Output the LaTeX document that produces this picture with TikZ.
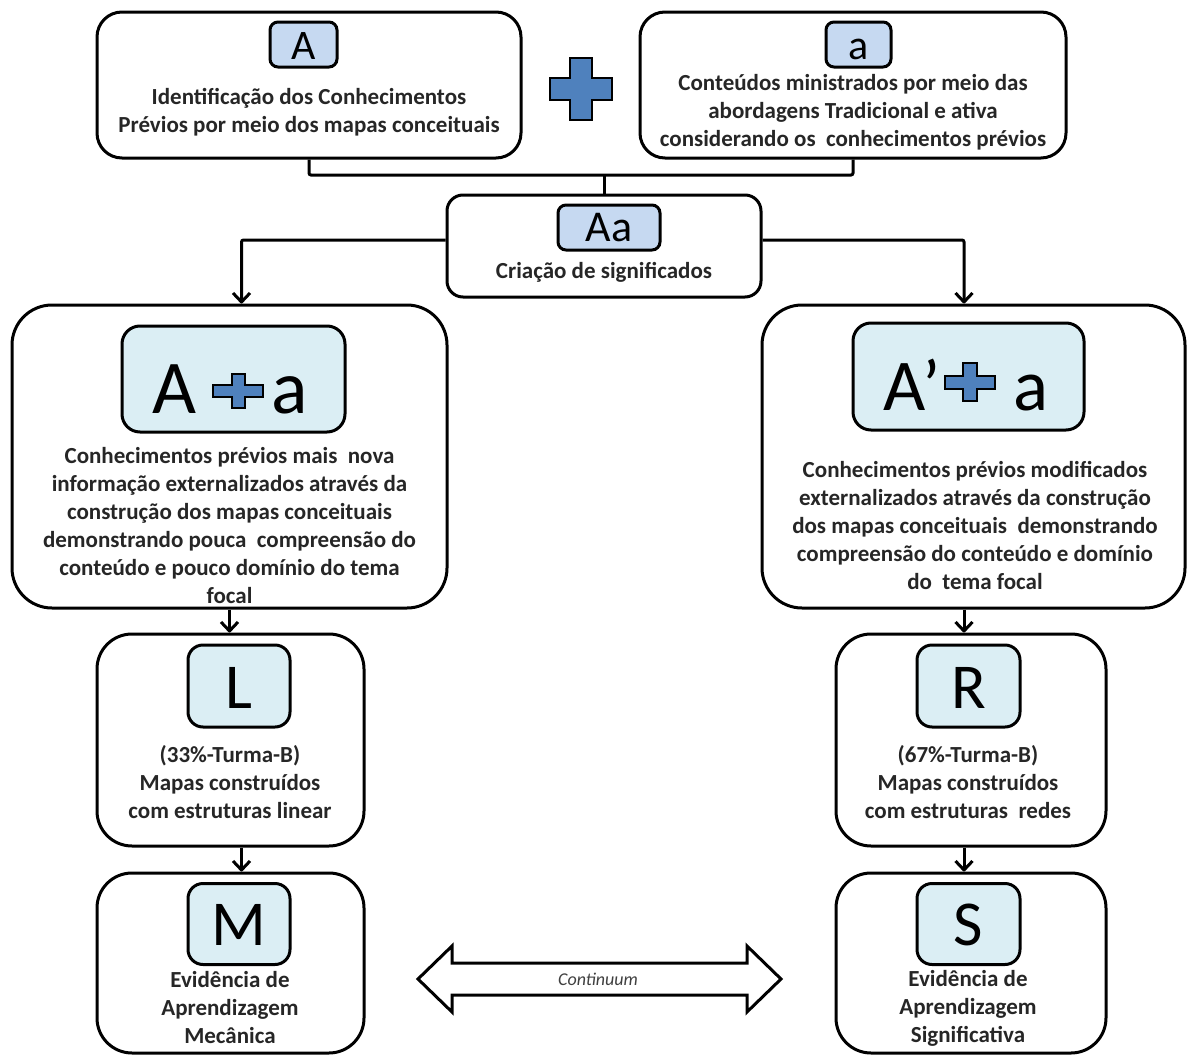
\documentclass[tikz,border=0pt]{standalone}
\usepackage{fontspec}
\setmainfont{Carlito}
\usetikzlibrary{arrows.meta}
\definecolor{lightblue}{HTML}{C6D9F1}
\definecolor{paleblue}{HTML}{DBEEF4}
\definecolor{plusblue}{HTML}{4F81BD}
\begin{document}
\begin{tikzpicture}[x=1pt,y=-1pt,
  box/.style={draw, line width=3pt, inner sep=0pt, fill=white},
  innerbox/.style={draw, line width=3pt, inner sep=0pt},
  desc/.style={font=\fontsize{23}{28}\selectfont\bfseries, align=center, inner sep=0pt, text=black!85},
  conn/.style={line width=3pt, rounded corners=2pt},
  arr/.style={line width=3pt, rounded corners=2pt, -{Straight Barb[length=9pt,width=17pt,line join=round]}},
  plusstyle/.style={draw, line width=2.5pt, fill=plusblue, line join=miter},
  letter/.style={inner sep=0pt, anchor=base}
]
\fill[white] (0,0) rectangle (1187,1055);
\useasboundingbox (0,0) rectangle (1187,1055);

% outer boxes
\node[box, rounded corners=25pt, minimum width=424, minimum height=146] (tl) at (309,85) {};
\node[box, rounded corners=25pt, minimum width=426, minimum height=146] (tr) at (853,85) {};
\node[box, rounded corners=16pt, minimum width=314, minimum height=102] (aa) at (604,246) {};
\node[box, rounded corners=40pt, minimum width=435, minimum height=303] (bl) at (229.5,456.5) {};
\node[box, rounded corners=40pt, minimum width=423, minimum height=303] (br) at (973.5,456.5) {};
\node[box, rounded corners=35pt, minimum width=267, minimum height=212] (lb) at (230.5,740) {};
\node[box, rounded corners=35pt, minimum width=267, minimum height=180] (mb) at (230.5,963) {};
\node[box, rounded corners=35pt, minimum width=270, minimum height=212] (rb) at (971,740) {};
\node[box, rounded corners=35pt, minimum width=270, minimum height=180] (sb) at (971,963) {};

% inner boxes
\node[innerbox, fill=lightblue, rounded corners=8pt, minimum width=67, minimum height=45] (iA) at (303.5,44.5) {};
\node[innerbox, fill=lightblue, rounded corners=8pt, minimum width=65, minimum height=45] (ia) at (858.5,44.5) {};
\node[innerbox, fill=lightblue, rounded corners=8pt, minimum width=102, minimum height=45] (iAa) at (609,227.5) {};
\node[innerbox, fill=paleblue, rounded corners=18pt, minimum width=223, minimum height=106] (iApa) at (233.5,379) {};
\node[innerbox, fill=paleblue, rounded corners=18pt, minimum width=231, minimum height=107] (iAppa) at (968.5,376.5) {};
\node[innerbox, fill=paleblue, rounded corners=15pt, minimum width=102, minimum height=82] (iL) at (239,686) {};
\node[innerbox, fill=paleblue, rounded corners=15pt, minimum width=102, minimum height=81] (iM) at (239,924) {};
\node[innerbox, fill=paleblue, rounded corners=15pt, minimum width=103, minimum height=82] (iR) at (968.5,686) {};
\node[innerbox, fill=paleblue, rounded corners=15pt, minimum width=103, minimum height=81] (iS) at (968.5,924) {};

% letters
\node[letter, font=\fontsize{42}{42}\selectfont] (tA) at (303.5,59) {A};
\node[letter, font=\fontsize{42}{42}\selectfont] (ta) at (858.5,59) {a};
\node[letter, font=\fontsize{44}{44}\selectfont] (tAa) at (609,241) {Aa};
\node[letter, font=\fontsize{76}{76}\selectfont] (bA) at (174,413) {A};
\node[letter, font=\fontsize{76}{76}\selectfont] (ba) at (290,413) {a};
\node[letter, font=\fontsize{73}{73}\selectfont] (bAp) at (912,410) {A’};
\node[letter, font=\fontsize{73}{73}\selectfont] (bap) at (1031,410) {a};
\node[letter, font=\fontsize{64}{64}\selectfont] (tL) at (239,708) {L};
\node[letter, font=\fontsize{64}{64}\selectfont] (tM) at (239,945) {M};
\node[letter, font=\fontsize{64}{64}\selectfont] (tR) at (968.5,708) {R};
\node[letter, font=\fontsize{64}{64}\selectfont] (tS) at (968.5,945) {S};

% plus signs
\draw[plusstyle, shift={(581,89)}] (-11,-31) -- (11,-31) -- (11,-11) -- (31,-11) -- (31,11) -- (11,11) -- (11,31) -- (-11,31) -- (-11,11) -- (-31,11) -- (-31,-11) -- (-11,-11) -- cycle;
\draw[plusstyle, line width=2pt, shift={(238,391)}] (-6.5,-17) -- (6.5,-17) -- (6.5,-6) -- (25,-6) -- (25,6) -- (6.5,6) -- (6.5,17) -- (-6.5,17) -- (-6.5,6) -- (-25,6) -- (-25,-6) -- (-6.5,-6) -- cycle;
\draw[plusstyle, line width=2pt, shift={(970,382)}] (-7,-19) -- (7,-19) -- (7,-6.5) -- (25,-6.5) -- (25,6.5) -- (7,6.5) -- (7,19) -- (-7,19) -- (-7,6.5) -- (-25,6.5) -- (-25,-6.5) -- (-7,-6.5) -- cycle;

% descriptions
\node[desc] (dtl) at (309,112) {Identificação dos Conhecimentos\\Prévios por meio dos mapas conceituais};
\node[desc] (dtr) at (853,112.5) {Conteúdos ministrados por meio das\\abordagens Tradicional e ativa\\considerando os\ \ conhecimentos prévios};
\node[desc] (daa) at (604,272) {Criação de significados};
\node[desc] (dbl) at (229.5,525.5) {Conhecimentos prévios mais\ \ nova\\informação externalizados através da\\construção dos mapas conceituais\\demonstrando pouca\ \ compreensão do\\conteúdo e pouco domínio do tema\\focal};
\node[desc] (dbr) at (975,525.5) {Conhecimentos prévios modificados\\externalizados através da construção\\dos mapas conceituais\ \ demonstrando\\compreensão do conteúdo e domínio\\do\ \ tema focal};
\node[desc] (dl) at (230,782) {(33\%-Turma-B)\\Mapas construídos\\com estruturas linear};
\node[desc] (dm) at (230,1008) {Evidência de\\Aprendizagem\\Mecânica};
\node[desc] (dr) at (968,782) {(67\%-Turma-B)\\Mapas construídos\\com estruturas\ \ redes};
\node[desc] (ds) at (968,1008) {Evidência de\\Aprendizagem\\Significativa};

% connectors
\coordinate (j) at (604,175);
\draw[conn] (tl.south) |- (j) -| (tr.south);
\draw[conn] (j) -- (aa.north);
\draw[arr] ([yshift=6pt]aa.west) -| ([xshift=12pt]bl.north);
\draw[arr] ([yshift=6pt]aa.east) -| ([xshift=-9.5pt]br.north);
\draw[arr] (bl.south) -- (bl.south |- lb.north);
\draw[arr] ([xshift=11pt]lb.south) -- ([xshift=11pt]lb.south |- mb.north);
\draw[arr] ([xshift=-9.5pt]br.south) -- ([xshift=-9.5pt]br.south |- rb.north);
\draw[arr] ([xshift=-7pt]rb.south) -- ([xshift=-7pt]rb.south |- sb.north);

% continuum double arrow
\draw[line width=3pt, line join=miter, fill=white] (418,979) -- (452,946) -- (452,963) -- (747,963) -- (747,946) -- (781,979) -- (747,1012) -- (747,995) -- (452,995) -- (452,1012) -- cycle;
\node[inner sep=0pt, font=\fontsize{18}{20}\selectfont\itshape, text=black!75] (cont) at (598,979) {Continuum};
\end{tikzpicture}
\end{document}
